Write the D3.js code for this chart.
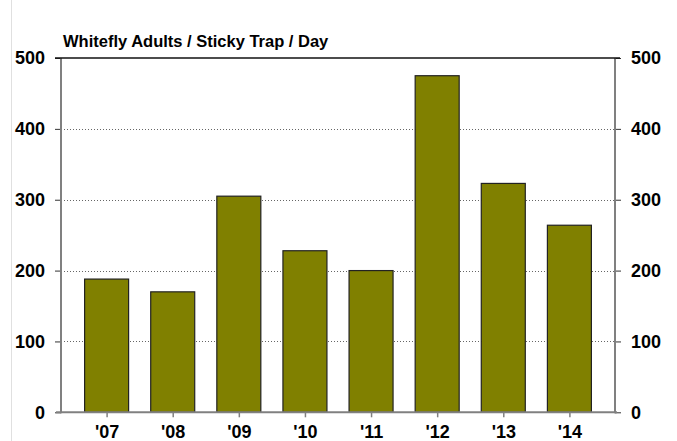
<!DOCTYPE html>
<html><head><meta charset="utf-8">
<script src="https://cdn.jsdelivr.net/npm/d3@7"></script>
<style>body{margin:0;background:#fff}svg{display:block}</style>
</head><body>
<script>
const categories = ["'07","'08","'09","'10","'11","'12","'13","'14"];
const values = [188, 170, 305, 228, 200, 475, 323, 264];
const yTicks = [0, 100, 200, 300, 400, 500];
const title = "Whitefly Adults / Sticky Trap / Day";

const W = 677, H = 441;
const L = 61, R = 615, T = 58, B = 412.3;
const svg = d3.select("body").append("svg").attr("width", W).attr("height", H);

// faint left border line
svg.append("line").attr("x1", 11.5).attr("x2", 11.5).attr("y1", 0).attr("y2", H)
  .attr("stroke", "#e0e0e0").attr("stroke-width", 1);

const xc = d3.scalePoint().domain(categories).range([L + 12.5 + 33.1, R - 12.5 - 33.1]);
const y = d3.scaleLinear().domain([0, 500]).range([B, T]);

// gridlines
svg.append("g").selectAll("line").data(yTicks.filter(d => d > 0 && d < 500)).join("line")
  .attr("x1", L).attr("x2", R).attr("y1", d => Math.round(y(d)) + 0.5).attr("y2", d => Math.round(y(d)) + 0.5)
  .attr("stroke", "#666").attr("stroke-width", 1).attr("stroke-dasharray", "1,2");

// bars
svg.append("g").selectAll("rect").data(values).join("rect")
  .attr("x", (d, i) => xc(categories[i]) - 22)
  .attr("width", 44)
  .attr("y", d => y(d))
  .attr("height", d => B - y(d))
  .attr("fill", "#808000").attr("stroke", "#222").attr("stroke-width", 1.2);

// left axis
const gl = svg.append("g").attr("transform", `translate(${L},0)`)
  .call(d3.axisLeft(y).tickValues(yTicks).tickSize(6).tickPadding(10).tickFormat(d3.format("d")));
gl.select(".domain").remove();
gl.selectAll(".tick line").attr("stroke", "#333");
gl.selectAll("text").attr("font-family", "Liberation Sans, Arial, sans-serif").attr("font-weight", "bold")
  .attr("font-size", 18).attr("fill", "#000");
svg.append("line").attr("x1", L).attr("x2", L).attr("y1", T).attr("y2", B + 1)
  .attr("stroke", "#808080").attr("stroke-width", 2);

// right axis
const gr = svg.append("g").attr("transform", `translate(${R},0)`)
  .call(d3.axisRight(y).tickValues(yTicks).tickSize(6).tickPadding(10).tickFormat(d3.format("d")));
gr.select(".domain").remove();
gr.selectAll(".tick line").attr("stroke", "#333");
gr.selectAll("text").attr("font-family", "Liberation Sans, Arial, sans-serif").attr("font-weight", "bold")
  .attr("font-size", 18).attr("fill", "#000");
svg.append("line").attr("x1", R).attr("x2", R).attr("y1", T).attr("y2", B + 1)
  .attr("stroke", "#808080").attr("stroke-width", 2);

// top line (500)
svg.append("line").attr("x1", L - 6).attr("x2", R + 5).attr("y1", y(500)).attr("y2", y(500))
  .attr("stroke", "#111").attr("stroke-width", 1.5);

// bottom axis
svg.append("line").attr("x1", L - 5).attr("x2", R + 2).attr("y1", B).attr("y2", B)
  .attr("stroke", "#808080").attr("stroke-width", 2);
const gb = svg.append("g").attr("transform", `translate(0,${B})`)
  .call(d3.axisBottom(xc).tickSize(5).tickPadding(8));
gb.select(".domain").remove();
gb.selectAll(".tick line").attr("stroke", "#808080").attr("stroke-width", 1.5);
gb.selectAll("text").attr("font-family", "Liberation Sans, Arial, sans-serif").attr("font-weight", "bold")
  .attr("font-size", 18).attr("fill", "#000");

// title
svg.append("text").attr("x", 63).attr("y", 47).text(title)
  .attr("font-family", "Liberation Sans, Arial, sans-serif").attr("font-weight", "bold")
  .attr("font-size", 16.5).attr("fill", "#000");
</script>
</body></html>
